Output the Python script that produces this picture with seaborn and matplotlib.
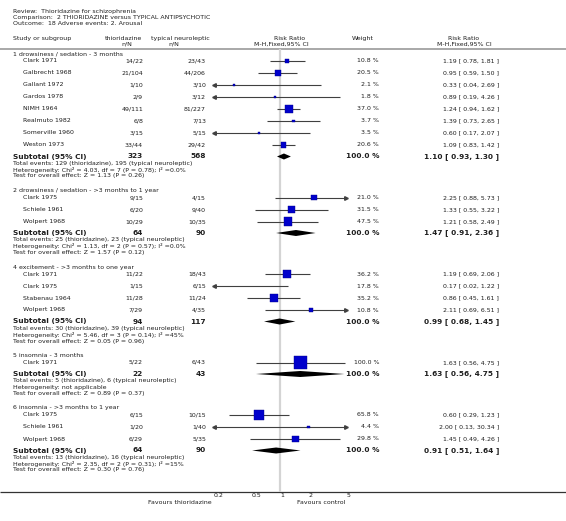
import numpy as np
import pandas as pd
import matplotlib
matplotlib.use("Agg")
import matplotlib.pyplot as plt
from matplotlib.ticker import NullLocator
import seaborn as sns

# ---------------- data ----------------
title_lines = [
    "Review:  Thioridazine for schizophrenia",
    "Comparison:  2 THIORIDAZINE versus TYPICAL ANTIPSYCHOTIC",
    "Outcome:  18 Adverse events: 2. Arousal",
]
exp_label = "thioridazine"
ctl_label = "typical neuroleptic"
tick_values = [0.2, 0.5, 1, 2, 5]
tick_labels = ["0.2", "0.5", "1", "2", "5"]
favours_left = "Favours thioridazine"
favours_right = "Favours control"

group_names = [
    "1 drowsiness / sedation - 3 months",
    "2 drowsiness / sedation - >3 months to 1 year",
    "4 excitement - >3 months to one year",
    "5 insomnia - 3 months",
    "6 insomnia - >3 months to 1 year",
]
study_group = [0, 0, 0, 0, 0, 0, 0, 0, 1, 1, 1, 2, 2, 2, 2, 3, 4, 4, 4]
study_names = ["Clark 1971", "Galbrecht 1968", "Gallant 1972", "Gardos 1978",
               "NIMH 1964", "Realmuto 1982", "Somerville 1960", "Weston 1973",
               "Clark 1975", "Schiele 1961", "Wolpert 1968",
               "Clark 1971", "Clark 1975", "Stabenau 1964", "Wolpert 1968",
               "Clark 1971",
               "Clark 1975", "Schiele 1961", "Wolpert 1968"]
exp_nN = ["14/22", "21/104", "1/10", "2/9", "49/111", "6/8", "3/15", "33/44",
          "9/15", "6/20", "10/29",
          "11/22", "1/15", "11/28", "7/29",
          "5/22",
          "6/15", "1/20", "6/29"]
ctl_nN = ["23/43", "44/206", "3/10", "3/12", "81/227", "7/13", "5/15", "29/42",
          "4/15", "9/40", "10/35",
          "18/43", "6/15", "11/24", "4/35",
          "6/43",
          "10/15", "1/40", "5/35"]
weights = [10.8, 20.5, 2.1, 1.8, 37.0, 3.7, 3.5, 20.6,
           21.0, 31.5, 47.5,
           36.2, 17.8, 35.2, 10.8,
           100.0,
           65.8, 4.4, 29.8]
rr = [1.19, 0.95, 0.33, 0.89, 1.24, 1.39, 0.60, 1.09,
      2.25, 1.33, 1.21,
      1.19, 0.17, 0.86, 2.11,
      1.63,
      0.60, 2.00, 1.45]
rr_lo = [0.78, 0.59, 0.04, 0.19, 0.94, 0.73, 0.17, 0.83,
         0.88, 0.55, 0.58,
         0.69, 0.02, 0.45, 0.69,
         0.56,
         0.29, 0.13, 0.49]
rr_hi = [1.81, 1.50, 2.69, 4.26, 1.62, 2.65, 2.07, 1.42,
         5.73, 3.22, 2.49,
         2.06, 1.22, 1.61, 6.51,
         4.75,
         1.23, 30.34, 4.26]

sub_exp_total = [323, 64, 94, 22, 64]
sub_ctl_total = [568, 90, 117, 43, 90]
sub_rr = [1.10, 1.47, 0.99, 1.63, 0.91]
sub_lo = [0.93, 0.91, 0.68, 0.56, 0.51]
sub_hi = [1.30, 2.36, 1.45, 4.75, 1.64]
sub_exp_events = [129, 25, 30, 5, 13]
sub_ctl_events = [195, 23, 39, 6, 16]
heterogeneity = [
    "Heterogeneity: Chi\u00b2 = 4.03, df = 7 (P = 0.78); I\u00b2 =0.0%",
    "Heterogeneity: Chi\u00b2 = 1.13, df = 2 (P = 0.57); I\u00b2 =0.0%",
    "Heterogeneity: Chi\u00b2 = 5.46, df = 3 (P = 0.14); I\u00b2 =45%",
    "Heterogeneity: not applicable",
    "Heterogeneity: Chi\u00b2 = 2.35, df = 2 (P = 0.31); I\u00b2 =15%",
]
overall_test = [
    "Test for overall effect: Z = 1.13 (P = 0.26)",
    "Test for overall effect: Z = 1.57 (P = 0.12)",
    "Test for overall effect: Z = 0.05 (P = 0.96)",
    "Test for overall effect: Z = 0.89 (P = 0.37)",
    "Test for overall effect: Z = 0.30 (P = 0.76)",
]

# ---------------- style ----------------
sns.set_theme(style="white")
plt.rcParams["font.family"] = ["DejaVu Sans"]
TXT = "#1e1e1e"
FS = 4.5
FSB = 5.3

W, H = 566, 521
fig = plt.figure(figsize=(W / 100, H / 100), dpi=100)
tx = fig.add_axes([0, 0, 1, 1])
tx.set_xlim(0, W)
tx.set_ylim(H, 0)
tx.axis("off")

X0, X1 = 213.3, 346.7
Y0, Y1 = 49.0, 491.7
fx = fig.add_axes([X0 / W, 1 - Y1 / H, (X1 - X0) / W, (Y1 - Y0) / H])
fx.patch.set_visible(False)
fx.set_xscale("log")
fx.set_xlim(tick_values[0], tick_values[-1])
fx.set_ylim(Y1, Y0)
for s in fx.spines.values():
    s.set_visible(False)

# column positions (pixels)
C_GRP, C_STUDY = 13, 23
C_EXP, C_CTL = 143, 206
C_W, C_RR = 379, 499

def t(x, y, s, ha="left", bold=False, size=None, color=TXT):
    tx.text(x, y, s, ha=ha, va="center", fontsize=size or (FSB if bold else FS),
            fontweight="bold" if bold else "normal", color=color)

# title + header
for i, line in enumerate(title_lines):
    t(13, 11 + 6.4 * i, line)
t(13, 38.3, "Study or subgroup")
t(123, 38.3, exp_label, ha="center")
t(127, 44, "n/N", ha="center")
t(180, 38.3, ctl_label, ha="center")
t(174, 44, "n/N", ha="center")
t(290, 38.3, "Risk Ratio", ha="center")
t(281, 44, "M-H,Fixed,95% CI", ha="center")
t(363, 38.3, "Weight", ha="center")
t(464, 38.3, "Risk Ratio", ha="center")
t(464, 44, "M-H,Fixed,95% CI", ha="center")
tx.plot([0, W], [49.3, 49.3], color="#9a9a9a", lw=1.2, solid_capstyle="butt")

# layout rows
study_y = [0.0] * len(study_names)
sub_y = []
y = 54.0
for g, gname in enumerate(group_names):
    t(C_GRP, y, gname)
    y += 7
    idx = [i for i, gg in enumerate(study_group) if gg == g]
    for k, i in enumerate(idx):
        study_y[i] = y + 12 * k
    y = study_y[idx[-1]] + 11.5
    sub_y.append(y)
    y += 34

for i, name in enumerate(study_names):
    yy = study_y[i]
    t(C_STUDY, yy, name)
    t(C_EXP, yy, exp_nN[i], ha="right")
    t(C_CTL, yy, ctl_nN[i], ha="right")
    t(C_W, yy, f"{weights[i]:.1f} %", ha="right")
    t(C_RR, yy, f"{rr[i]:.2f} [ {rr_lo[i]:.2f}, {rr_hi[i]:.2f} ]", ha="right")

for g in range(len(group_names)):
    yy = sub_y[g]
    t(C_GRP, yy, "Subtotal (95% CI)", bold=True)
    t(C_EXP, yy, str(sub_exp_total[g]), ha="right", bold=True)
    t(C_CTL, yy, str(sub_ctl_total[g]), ha="right", bold=True)
    t(C_W, yy, "100.0 %", ha="right", bold=True)
    t(C_RR, yy, f"{sub_rr[g]:.2f} [ {sub_lo[g]:.2f}, {sub_hi[g]:.2f} ]", ha="right", bold=True)
    t(C_GRP, yy + 6.7, f"Total events: {sub_exp_events[g]} ({exp_label}), "
                       f"{sub_ctl_events[g]} ({ctl_label})")
    t(C_GRP, yy + 13.1, heterogeneity[g])
    t(C_GRP, yy + 19.5, overall_test[g])

# ---------------- forest marks ----------------
fx.axvline(1, color="#d4d4d4", lw=1.6, zorder=0)
xmin, xmax = tick_values[0], tick_values[-1]
LINE = "#404040"
for i in range(len(study_names)):
    lo = max(rr_lo[i], xmin)
    hi = min(rr_hi[i], xmax)
    fx.hlines(study_y[i], lo, hi, color=LINE, lw=0.8, zorder=1)
    if rr_lo[i] < xmin:
        fx.plot([xmin * 1.025], [study_y[i]], marker="<", ms=2.6, color=LINE,
                mec=LINE, zorder=2, clip_on=False)
    if rr_hi[i] > xmax:
        fx.plot([xmax / 1.025], [study_y[i]], marker=">", ms=2.6, color=LINE,
                mec=LINE, zorder=2, clip_on=False)

df = pd.DataFrame({"rr": rr, "y": study_y, "w": weights})
side_px = np.maximum(12.7 * np.sqrt(df["w"].to_numpy() / 100.0), 1.6)
sns.scatterplot(data=df, x="rr", y="y", marker="s", s=(side_px * 0.72) ** 2,
                color="#0000cc", edgecolor="#00008b", linewidth=0.3,
                ax=fx, legend=False, zorder=3)

for g in range(len(group_names)):
    yy = sub_y[g]
    fx.fill([sub_lo[g], sub_rr[g], sub_hi[g], sub_rr[g]],
            [yy, yy - 3, yy, yy + 3], color="black", lw=0, zorder=3)

fx.set_ylim(Y1, Y0)
fx.set_xlim(xmin, xmax)
fx.set_xlabel("")
fx.set_ylabel("")
fx.set_yticks([])
fx.set_xticks(tick_values)
fx.set_xticklabels(tick_labels, ha="left", fontsize=FS, color=TXT)
fx.xaxis.set_minor_locator(NullLocator())
fx.tick_params(axis="x", length=0, pad=1.2)

tx.plot([0, W], [Y1, Y1], color="#333333", lw=0.9, solid_capstyle="butt")
t(180, 502.3, favours_left, ha="center")
t(321.5, 502.3, favours_right, ha="center")

fig.savefig("out.png", dpi=100)
